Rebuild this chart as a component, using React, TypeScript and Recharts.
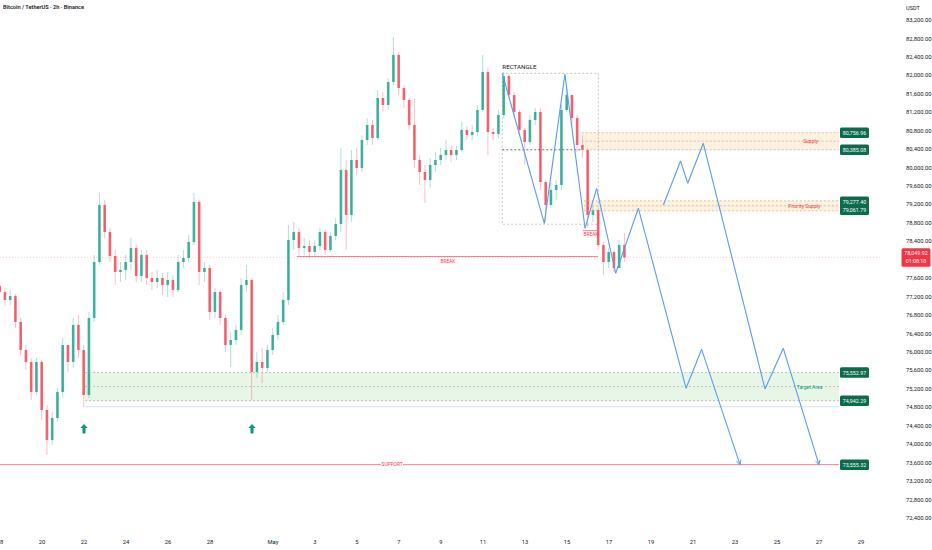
import React from "react";
import {
  ComposedChart,
  Bar,
  XAxis,
  YAxis,
  ReferenceArea,
  ReferenceLine,
  ReferenceDot,
} from "recharts";

// BTC/USDT, one candle per 6h starting Apr 18 00:00 (day 0)
const firstOpen = 77431;
const closes = [
  77301, 77127, 77214, 76650, 76042, 75782, 75132, 75782, 74741, 74090,
  74568, 75132, 76151, 75782, 76585, 76042, 75066, 76737, 77951, 79188,
  78602, 78081, 77734, 77778, 77951, 78255, 77648, 78103, 77604, 77517,
  77604, 77452, 77561, 77344, 77951, 78038, 78385, 79253, 77734, 77821,
  76867, 77301, 76737, 76151, 76259, 76476, 77452, 77561, 75565, 75782,
  75652, 76042, 76368, 76650, 77127, 78428, 78602, 78255, 78298, 78168,
  78298, 78602, 78211, 78515, 78775, 79947, 78971, 80164, 79990, 80597,
  80923, 80641, 81508, 81357, 81855, 82441, 81725, 81465, 80923, 80164,
  79903, 79730, 80055, 80164, 80272, 80380, 80272, 80380, 80814, 80706,
  80771, 81248, 82072, 80771, 80728, 81140, 81986, 81573, 81205, 80814,
  80554, 81031, 81205, 79686, 79188, 79513, 79621, 81248, 81573, 81075,
  80489, 80380, 78971, 79079, 78320, 77951, 78168, 77821, 78320, 78049.92,
];
const highs = [
  77517, 77387, 77344, 77257, 76737, 76151, 75869, 75869, 75826, 74850,
  74698, 75218, 76303, 76151, 76737, 76802, 76151, 76867, 78103, 79448,
  79296, 78689, 78211, 77951, 78103, 78472, 78320, 78211, 78211, 77734,
  77778, 77713, 77734, 77669, 78103, 78211, 78537, 79448, 79296, 77951,
  77886, 77387, 77344, 76802, 76433, 76585, 77604, 77886, 77604, 75999,
  76086, 76151, 76520, 76802, 77301, 78754, 78819, 78689, 78472, 78428,
  78428, 78689, 78645, 78602, 78906, 80424, 80164, 80380, 80424, 80706,
  81075, 81031, 81682, 81639, 81942, 82831, 82506, 81790, 81508, 81508,
  80272, 80055, 80207, 80337, 80424, 80597, 80489, 80467, 80988, 80901,
  80923, 81357, 82441, 82159, 80858, 81248, 82072, 82030, 81639, 81248,
  80858, 81140, 81291, 81291, 79730, 79686, 79730, 81357, 81725, 81573,
  81140, 80706, 80424, 79188, 79122, 78385, 78255, 78211, 78428, 78580,
];
const lows = [
  77170, 76997, 77019, 76520, 75934, 75609, 74958, 75066, 74524, 73765,
  73982, 74481, 75001, 75565, 75652, 75869, 74806, 75001, 76650, 77886,
  78472, 77951, 77452, 77517, 77561, 77778, 77517, 77517, 77452, 77344,
  77387, 77235, 77192, 77192, 77301, 77821, 77951, 78320, 77452, 77517,
  76693, 76737, 76585, 75999, 75674, 76151, 76368, 77301, 74958, 75435,
  75327, 75565, 75934, 76259, 76585, 77019, 78211, 78081, 78103, 78038,
  78081, 78211, 78103, 78168, 78428, 78602, 78211, 78819, 79838, 79903,
  80489, 80489, 80597, 81205, 81248, 81790, 81573, 81291, 80814, 79990,
  79621, 79231, 79556, 79903, 80055, 80164, 80120, 80164, 80337, 80597,
  80597, 80684, 81205, 80272, 80597, 80641, 81075, 81465, 81075, 80684,
  80055, 80489, 80923, 79513, 78819, 79122, 79296, 79513, 81205, 80923,
  80337, 80207, 78689, 78819, 78211, 77669, 77821, 77734, 77821, 77951,
];

const xTicks = [0, 2, 4, 6, 8, 10, 13, 15, 17, 19, 21, 23, 25, 27, 29, 31, 33, 35, 37, 39, 41];
const xTickLabels = ["18", "20", "22", "24", "26", "28", "May", "3", "5", "7", "9", "11", "13", "15", "17", "19", "21", "23", "25", "27", "29"];
// 78,000 sits under the last-price tag, so it is not listed
const yTicks = [
  72400, 72800, 73200, 73600, 74000, 74400, 74800, 75200, 75600, 76000,
  76400, 76800, 77200, 77600, 78400, 78800, 79200, 79600, 80000,
  80400, 80800, 81200, 81600, 82000, 82400, 82800, 83200,
];

// levels drawn on the chart
const supply = { top: 80756.96, bottom: 80385.08, from: 27.7, to: 39.95 };
const prioritySupply = { top: 79277.4, bottom: 79061.79, from: 27.8, to: 39.95 };
const targetArea = { top: 75552.97, bottom: 74942.29, from: 4.05, to: 39.95 };
const supportLevel = 73555.32;
const breakLevel = 78070;
const minorBreakLevel = 78630;
const lastPrice = 78049.92;
const countdown = "01:08:18";
const rectangleBox = { from: 23.92, to: 28.49, top: 82043, bottom: 78769 };

// projected path (day, price)
const pathOne = [
  [23.92, 82043], [25.92, 78790], [26.9, 82022], [27.86, 78682], [28.41, 79549],
  [29.32, 77706], [30.4, 79116], [32.67, 75211], [33.41, 76057], [35.24, 73555],
];
const pathTwo = [
  [31.59, 79187], [32.41, 80142], [32.75, 79658], [33.49, 80526], [36.43, 75197],
  [37.3, 76079], [39.0, 73555],
];
const buyArrows = [
  [4.0, 74330],
  [12.0, 74330],
];

const UP = "#089981";
const DOWN = "#f23645";
const BLUE = "#5b9bf0";
const FONT = "Roboto, 'Noto Sans', sans-serif";

const candles = closes.map((close, i) => {
  const open = i === 0 ? firstOpen : closes[i - 1];
  return { day: i / 4, open, close, high: highs[i], low: lows[i], range: [lows[i], highs[i]] };
});

const fmt = (v: number) =>
  v.toLocaleString("en-US", { minimumFractionDigits: 2, maximumFractionDigits: 2 });

const Candle = (props: any) => {
  const { x, y, width, height } = props;
  const d = props.payload ?? props;
  const top = Math.min(y, y + height);
  const h = Math.abs(height);
  const k = h / (d.high - d.low || 1);
  const yo = top + (d.high - d.open) * k;
  const yc = top + (d.high - d.close) * k;
  const color = d.close >= d.open ? UP : DOWN;
  const cx = x + width / 2;
  return (
    <g>
      <line x1={cx} x2={cx} y1={top} y2={top + h} stroke={color} strokeOpacity={0.4} strokeWidth={0.8} />
      <rect x={x} y={Math.min(yo, yc)} width={width} height={Math.max(Math.abs(yc - yo), 0.8)} fill={color} fillOpacity={0.75} />
    </g>
  );
};

const textMark = (text: string, color: string, size: number, anchor: "start" | "middle" = "middle") => (p: any) => (
  <text x={p.cx} y={p.cy} textAnchor={anchor} dominantBaseline="central" fontSize={size} fill={color} fontFamily={FONT}>
    {text}
  </text>
);

const priceBox = (lines: string[], color: string, dx = 0) => (p: any) => {
  const w = 29;
  const lh = 8;
  const h = lines.length * lh + 2.5;
  const left = p.cx + dx - w / 2;
  return (
    <g>
      <rect x={left} y={p.cy - h / 2} width={w} height={h} rx={1.5} fill={color} />
      {lines.map((t, i) => (
        <text key={i} x={left + w / 2} y={p.cy - h / 2 + 1.25 + lh * (i + 0.5)} textAnchor="middle" dominantBaseline="central" fontSize={5.3} fill="#fff" fontFamily={FONT}>
          {t}
        </text>
      ))}
    </g>
  );
};

const arrowShape = (p: any) => {
  const { cx, cy } = p;
  return (
    <path
      d={`M${cx} ${cy - 5} L${cx + 3.6} ${cy - 0.8} L${cx + 1.5} ${cy - 0.8} L${cx + 1.5} ${cy + 4.5} L${cx - 1.5} ${cy + 4.5} L${cx - 1.5} ${cy - 0.8} L${cx - 3.6} ${cy - 0.8} Z`}
      fill={UP}
    />
  );
};

const arrowHead = (angleDeg: number) => (p: any) => {
  const { cx, cy } = p;
  const a = (angleDeg * Math.PI) / 180;
  const len = 5;
  const spread = 0.5;
  const p1 = [cx - len * Math.cos(a - spread), cy - len * Math.sin(a - spread)];
  const p2 = [cx - len * Math.cos(a + spread), cy - len * Math.sin(a + spread)];
  return (
    <path d={`M${p1[0]} ${p1[1]} L${cx} ${cy} L${p2[0]} ${p2[1]}`} stroke={BLUE} strokeWidth={1} fill="none" />
  );
};

const zoneLines = (z: { top: number; bottom: number; from: number; to: number }, color: string, key: string) =>
  [z.top, (z.top + z.bottom) / 2, z.bottom].map((v, i) => (
    <ReferenceLine
      key={key + i}
      segment={[{ x: z.from, y: v }, { x: z.to, y: v }]}
      stroke={color}
      strokeDasharray="2 2"
      strokeWidth={0.8}
      ifOverflow="visible"
    />
  ));

const pathSegments = (pts: number[][], key: string) =>
  pts.slice(1).map((pt, i) => (
    <ReferenceLine
      key={key + i}
      segment={[{ x: pts[i][0], y: pts[i][1] }, { x: pt[0], y: pt[1] }]}
      stroke={BLUE}
      strokeWidth={1.1}
      ifOverflow="visible"
    />
  ));

export default function App() {
  return (
    <div style={{ position: "relative", width: 932, height: 550, background: "#fff", fontFamily: FONT }}>
      <style>{"body{margin:0}"}</style>
      <ComposedChart width={932} height={550} data={candles} margin={{ top: 0, right: 0, bottom: 0, left: 0 }}>
        <XAxis
          dataKey="day"
          type="number"
          domain={[0, 41.905]}
          ticks={xTicks}
          interval={0}
          allowDataOverflow
          tickFormatter={(v: number) => xTickLabels[xTicks.indexOf(v)] ?? ""}
          tick={{ fontSize: 5.8, fill: "#131722", fontFamily: FONT }}
          tickLine={false}
          axisLine={false}
          height={18}
        />
        <YAxis
          orientation="right"
          type="number"
          domain={[72094, 83634]}
          ticks={yTicks}
          interval={0}
          allowDataOverflow
          tickFormatter={fmt}
          tick={{ fontSize: 5.8, fill: "#131722", fontFamily: FONT }}
          tickLine={false}
          axisLine={false}
          tickMargin={20}
          width={52}
        />

        <ReferenceArea x1={supply.from} x2={supply.to} y1={supply.bottom} y2={supply.top} fill="#fbe0b8" fillOpacity={0.45} stroke="none" />
        <ReferenceArea x1={prioritySupply.from} x2={prioritySupply.to} y1={prioritySupply.bottom} y2={prioritySupply.top} fill="#fbe0b8" fillOpacity={0.45} stroke="none" />
        <ReferenceArea x1={targetArea.from} x2={targetArea.to} y1={targetArea.bottom} y2={targetArea.top} fill="#cdeacd" fillOpacity={0.45} stroke="none" />
        <ReferenceArea
          x1={rectangleBox.from}
          x2={rectangleBox.to}
          y1={rectangleBox.bottom}
          y2={rectangleBox.top}
          fill="none"
          stroke="#b8b8b8"
          strokeDasharray="2 2"
          strokeWidth={0.8}
        />
        {zoneLines(supply, "#d8b48c", "s")}
        {zoneLines(prioritySupply, "#d8b48c", "p")}
        {zoneLines(targetArea, "#a9b8a9", "t")}
        <ReferenceLine segment={[{ x: targetArea.from, y: 74810 }, { x: targetArea.to, y: 74810 }]} stroke="#cfd4ec" strokeWidth={0.8} />
        <ReferenceLine
          segment={[{ x: rectangleBox.from, y: supply.bottom }, { x: supply.from, y: supply.bottom }]}
          stroke="#444"
          strokeDasharray="2 2"
          strokeWidth={0.8}
        />

        <ReferenceLine y={lastPrice} stroke={DOWN} strokeOpacity={0.3} strokeDasharray="1 2" strokeWidth={0.8} />
        <ReferenceLine segment={[{ x: 14.13, y: breakLevel }, { x: 28.48, y: breakLevel }]} stroke="#f07585" strokeWidth={0.9} />
        <ReferenceLine segment={[{ x: 27.76, y: minorBreakLevel }, { x: 28.48, y: minorBreakLevel }]} stroke="#f07585" strokeWidth={0.9} />
        <ReferenceLine segment={[{ x: 0, y: supportLevel }, { x: 18.14, y: supportLevel }]} stroke="#f07585" strokeWidth={0.9} />
        <ReferenceLine segment={[{ x: 19.19, y: supportLevel }, { x: 39.95, y: supportLevel }]} stroke="#f07585" strokeWidth={0.9} />

        <Bar dataKey="range" barSize={2.6} shape={Candle} isAnimationActive={false} />

        {pathSegments(pathOne, "a")}
        {pathSegments(pathTwo, "b")}
        <ReferenceDot x={35.24} y={supportLevel} r={0} ifOverflow="visible" shape={arrowHead(71.6)} />
        <ReferenceDot x={39.0} y={supportLevel} r={0} ifOverflow="visible" shape={arrowHead(73)} />

        {buyArrows.map(([d, v], i) => (
          <ReferenceDot key={"ar" + i} x={d} y={v} r={0} ifOverflow="visible" shape={arrowShape} />
        ))}

        <ReferenceDot x={rectangleBox.from} y={82187} r={0} ifOverflow="visible" shape={textMark("RECTANGLE", "#131722", 6.2, "start")} />
        <ReferenceDot x={21.33} y={77951} r={0} ifOverflow="visible" shape={textMark("BREAK", DOWN, 4.8)} />
        <ReferenceDot x={28.14} y={78537} r={0} ifOverflow="visible" shape={textMark("BREAK", DOWN, 4.8)} />
        <ReferenceDot x={18.67} y={supportLevel} r={0} ifOverflow="visible" shape={textMark("SUPPORT", DOWN, 4.8)} />
        <ReferenceDot x={38.6} y={(supply.top + supply.bottom) / 2} r={0} ifOverflow="visible" shape={textMark("Supply", DOWN, 5)} />
        <ReferenceDot x={38.3} y={(prioritySupply.top + prioritySupply.bottom) / 2} r={0} ifOverflow="visible" shape={textMark("Priority Supply", DOWN, 5)} />
        <ReferenceDot x={38.55} y={(targetArea.top + targetArea.bottom) / 2} r={0} ifOverflow="visible" shape={textMark("Target Area", UP, 5)} />

        <ReferenceDot x={40.69} y={supply.top} r={0} ifOverflow="visible" shape={priceBox([fmt(supply.top)], "#0b6b4c")} />
        <ReferenceDot x={40.69} y={supply.bottom} r={0} ifOverflow="visible" shape={priceBox([fmt(supply.bottom)], "#0b6b4c")} />
        <ReferenceDot
          x={40.69}
          y={(prioritySupply.top + prioritySupply.bottom) / 2}
          r={0}
          ifOverflow="visible"
          shape={priceBox([fmt(prioritySupply.top), fmt(prioritySupply.bottom)], "#0b6b4c")}
        />
        <ReferenceDot x={40.69} y={targetArea.top} r={0} ifOverflow="visible" shape={priceBox([fmt(targetArea.top)], "#0b6b4c")} />
        <ReferenceDot x={40.69} y={targetArea.bottom} r={0} ifOverflow="visible" shape={priceBox([fmt(targetArea.bottom)], "#0b6b4c")} />
        <ReferenceDot x={40.69} y={supportLevel} r={0} ifOverflow="visible" shape={priceBox([fmt(supportLevel)], "#0b6b4c")} />
        <ReferenceDot x={41.905} y={lastPrice} r={0} ifOverflow="visible" shape={priceBox([fmt(lastPrice), countdown], DOWN, 36)} />
      </ComposedChart>
      <div style={{ position: "absolute", left: 3, top: 4, fontSize: 5.6, fontWeight: 600, color: "#131722" }}>
        Bitcoin / TetherUS · 2h · Binance
      </div>
      <div style={{ position: "absolute", left: 906, top: 5, fontSize: 5.6, color: "#131722" }}>USDT</div>
    </div>
  );
}
